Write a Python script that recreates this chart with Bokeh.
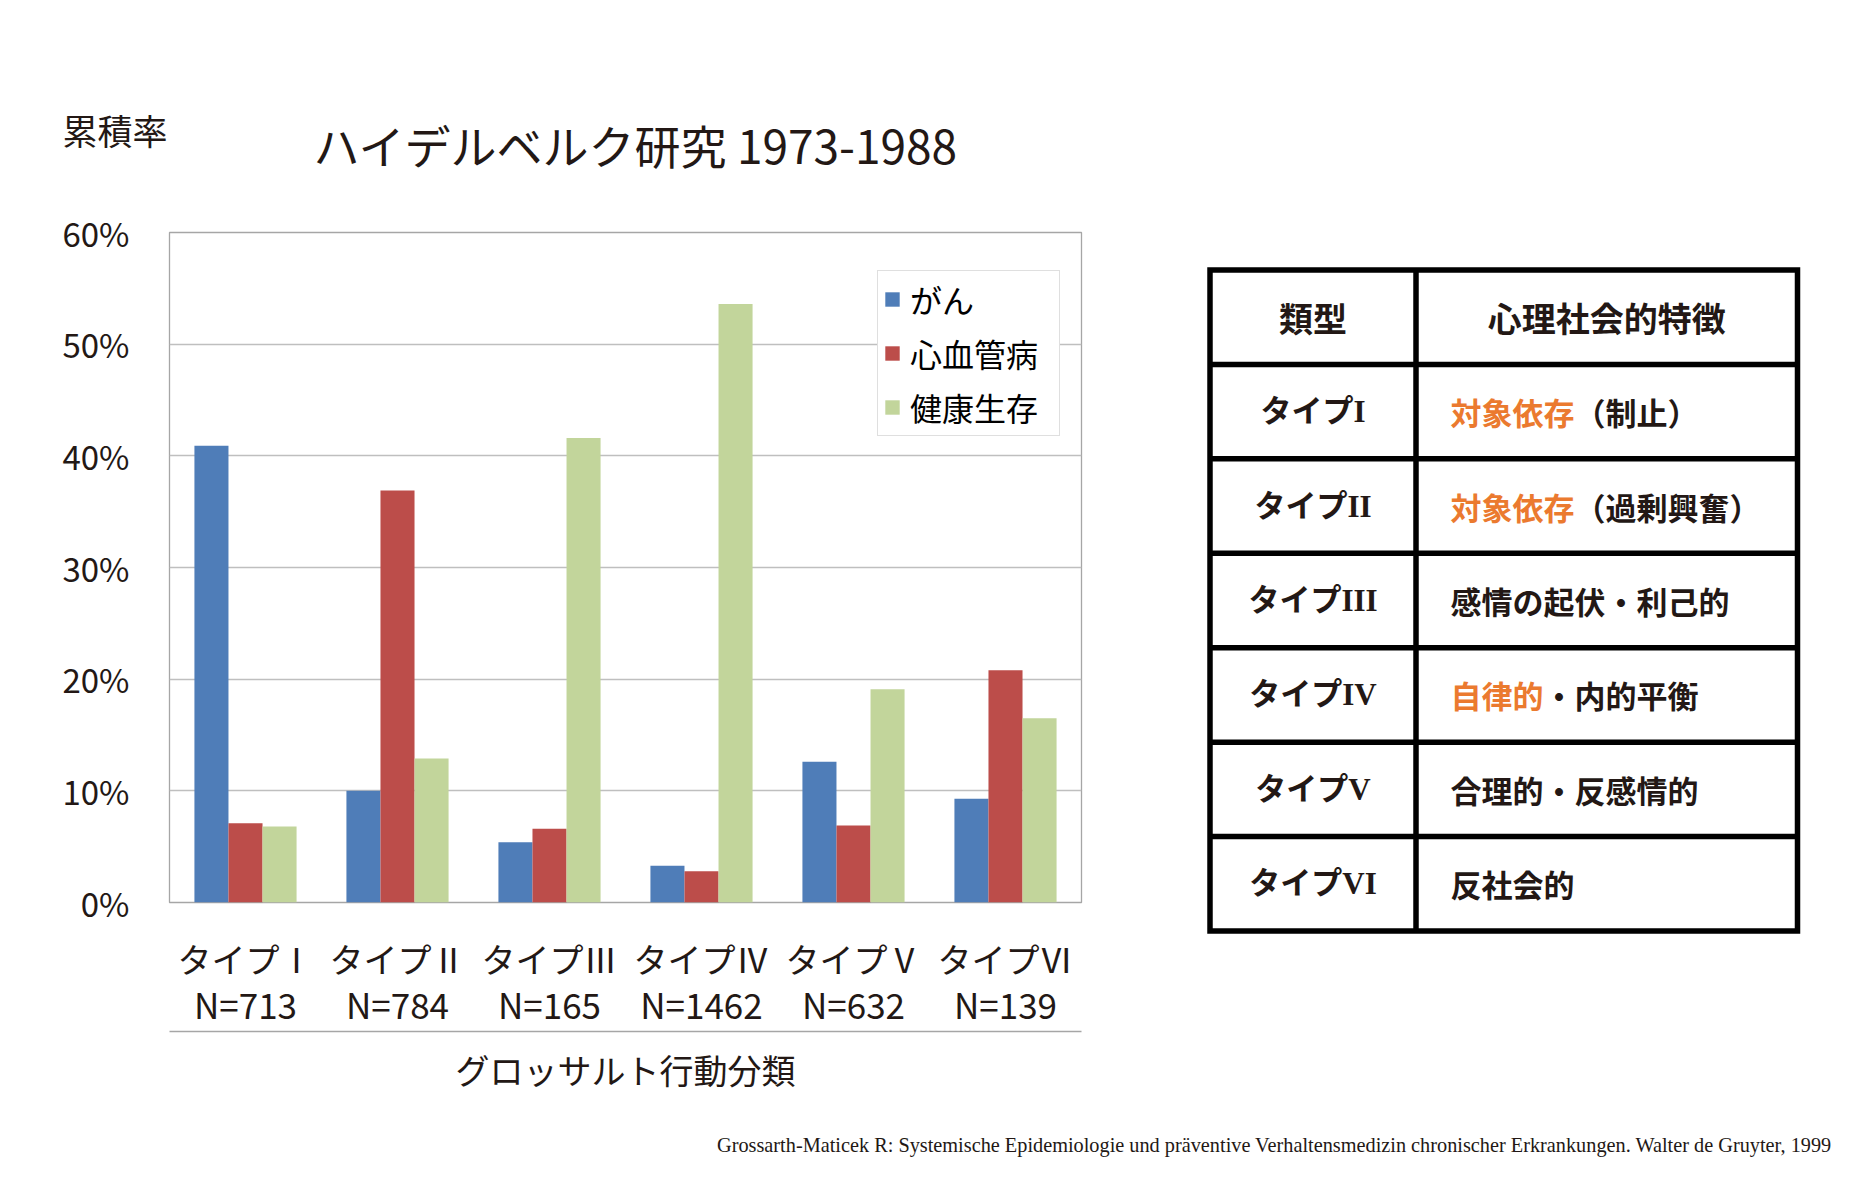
from bokeh.plotting import figure
from bokeh.models import (ColumnDataSource, FactorRange, Range1d, FixedTicker, CategoricalAxis,
                          PrintfTickFormatter, Legend, LegendItem)
from bokeh.transform import dodge
from bokeh.layouts import column, row
from bokeh.embed import file_html
from bokeh.resources import INLINE
from bokeh.core.properties import value

# ---------------- data ----------------
types = ["タイプⅠ", "タイプⅡ", "タイプⅢ", "タイプⅣ", "タイプⅤ", "タイプⅥ"]
n_values = [713, 784, 165, 1462, 632, 139]
cancer = [40.9, 10.0, 5.4, 3.3, 12.6, 9.3]
cardio = [7.1, 36.9, 6.6, 2.8, 6.9, 20.8]
healthy = [6.8, 12.9, 41.6, 53.6, 19.1, 16.5]
series_names = ["がん", "心血管病", "健康生存"]
y_ticks = [0, 10, 20, 30, 40, 50, 60]

title_text = "ハイデルベルク研究 1973-1988"
y_title = "累積率"
x_title = "グロッサルト行動分類"

table_header = ["類型", "心理社会的特徴"]
table_types = ["タイプI", "タイプII", "タイプIII", "タイプIV", "タイプV", "タイプVI"]
table_highlight = ["対象依存", "対象依存", "", "自律的", "", ""]
table_rest = ["（制止）", "（過剰興奮）", "感情の起伏・利己的", "・内的平衡", "合理的・反感情的", "反社会的"]

citation = ("Grossarth-Maticek R: Systemische Epidemiologie und präventive "
            "Verhaltensmedizin chronischer Erkrankungen. Walter de Gruyter, 1999")

# ---------------- style ----------------
JP = "Noto Sans CJK JP"
INK = "#231815"
colors = ["#4F7DB8", "#BC4D4A", "#C2D59B"]
ORANGE = "#EB7A2F"


def blank_fig(w, h):
    f = figure(width=w, height=h, x_range=Range1d(0, w), y_range=Range1d(h, 0),
               x_axis_location=None, y_axis_location=None, min_border=0,
               output_backend="svg", toolbar_location=None)
    f.grid.visible = False
    f.outline_line_color = None
    return f


LEFT_W = 1190
HEAD_H = 188
PAGE_W = 1872

# ---------------- header (title + y caption) ----------------
hd = blank_fig(PAGE_W, HEAD_H)
hd.text(x=[313], y=[143], text=[title_text], text_font=value(JP), text_font_size="46px",
        text_align="left", text_baseline="middle", text_color=INK)
hd.text(x=[62], y=[129], text=[y_title], text_font=value(JP), text_font_size="35px",
        text_align="left", text_baseline="middle", text_color=INK)

# ---------------- chart ----------------
src = ColumnDataSource(dict(types=types, cancer=cancer, cardio=cardio, healthy=healthy))
n_labels = [f"N={n}" for n in n_values]

p = figure(x_range=FactorRange(*types), y_range=Range1d(0, 60),
           frame_width=912, frame_height=670,
           min_border_left=169, min_border_right=109, min_border_top=44, min_border_bottom=218,
           output_backend="svg", toolbar_location=None)
p.background_fill_color = "white"
p.outline_line_color = "#A6A6A6"
p.outline_line_width = 1.3

bw = 0.224
renderers = []
for i, (col, c) in enumerate(zip(["cancer", "cardio", "healthy"], colors)):
    r = p.vbar(x=dodge("types", (i - 1) * bw, range=p.x_range), top=col, bottom=0,
               width=bw, source=src, fill_color=c, line_color=None)
    renderers.append(r)

# y axis
p.yaxis.ticker = FixedTicker(ticks=y_ticks)
p.yaxis.formatter = PrintfTickFormatter(format="%d%%")
p.yaxis.axis_line_color = None
p.yaxis.major_tick_line_color = None
p.yaxis.minor_tick_line_color = None
p.yaxis.major_label_standoff = 34
p.yaxis.major_label_text_font = JP
p.yaxis.major_label_text_font_size = "33px"
p.yaxis.major_label_text_color = INK

p.xgrid.visible = False
p.ygrid.ticker = FixedTicker(ticks=y_ticks)
p.ygrid.grid_line_color = "#BFBFBF"
p.ygrid.grid_line_width = 1.3

# x axis: first line of category labels
p.xaxis.axis_line_color = None
p.xaxis.major_tick_line_color = None
p.xaxis.minor_tick_line_color = None
p.xaxis.major_label_standoff = 25
p.xaxis.major_label_text_font = JP
p.xaxis.major_label_text_font_size = "34px"
p.xaxis.major_label_text_color = INK

# second line of category labels: N=...
p.extra_x_ranges = {"n": FactorRange(*n_labels)}
ax_n = CategoricalAxis(x_range_name="n",
                       axis_line_color=None, major_tick_line_color=None, minor_tick_line_color=None,
                       major_label_standoff=-14, major_label_text_font=JP,
                       major_label_text_font_size="35px", major_label_text_color=INK)
p.add_layout(ax_n, "below")

# third bottom axis: separator line + axis title
ax3 = CategoricalAxis(ticker=FixedTicker(ticks=[]),
                      axis_label=x_title, axis_line_color="#A6A6A6", axis_line_width=1.3,
                      major_tick_line_color=None, minor_tick_line_color=None,
                      major_label_standoff=0, axis_label_standoff=13,
                      axis_label_text_font=JP, axis_label_text_font_size="34px",
                      axis_label_text_font_style="normal", axis_label_text_color=INK)
p.add_layout(ax3, "below")

legend = Legend(items=[LegendItem(label=n, renderers=[r]) for n, r in zip(series_names, renderers)],
                location=(708, 466), orientation="vertical",
                border_line_color="#BFBFBF", border_line_width=1.3,
                padding=5, spacing=8, margin=0,
                glyph_width=18, glyph_height=18, label_standoff=9, label_height=36,
                label_width=144,
                label_text_font=JP, label_text_font_size="32px", label_text_color="black",
                background_fill_alpha=1.0)
p.add_layout(legend)

# ---------------- table ----------------
TW, TH = PAGE_W - LEFT_W, 44 + 670 + 218
t = blank_fig(TW, TH)

x_left, x_div, x_right = 19.5, 225.5, 607.0
y_top, row_h = 269.5 - HEAD_H, 94.43
n_rows = len(table_types) + 1
y_lines = [y_top + k * row_h for k in range(n_rows + 1)]
lw = 5.5

t.segment(x0=[x_left] * (n_rows - 1), x1=[x_right] * (n_rows - 1),
          y0=y_lines[1:-1], y1=y_lines[1:-1], line_color="black", line_width=lw)
t.segment(x0=[x_div], x1=[x_div], y0=[y_lines[0]], y1=[y_lines[-1]], line_color="black", line_width=lw)
t.quad(left=[x_left], right=[x_right], top=[y_lines[0]], bottom=[y_lines[-1]],
       fill_color=None, line_color="black", line_width=lw, line_join="miter")

col1_c = (x_left + x_div) / 2
col2_c = (x_div + x_right) / 2
centers = [y_top + (k + 0.5) * row_h for k in range(n_rows)]

t.text(x=[col1_c, col2_c], y=[centers[0]] * 2, text=table_header,
       text_font=value(JP), text_font_style="bold", text_font_size="34px",
       text_align="center", text_baseline="middle", text_color=INK)
t.text(x=[col1_c] * len(table_types), y=centers[1:], text=table_types,
       text_font=value("Liberation Serif, Noto Sans CJK JP"), text_font_style="bold",
       text_font_size="31px", text_align="center", text_baseline="middle", text_color=INK)

fs = 31
x_text = 260
t.text(x=[x_text] * len(table_highlight), y=centers[1:], text=table_highlight,
       text_font=value(JP), text_font_style="bold", text_font_size=f"{fs}px",
       text_align="left", text_baseline="middle", text_color=ORANGE)
t.text(x=[x_text + len(h) * fs for h in table_highlight], y=centers[1:], text=table_rest,
       text_font=value(JP), text_font_style="bold", text_font_size=f"{fs}px",
       text_align="left", text_baseline="middle", text_color=INK)

# ---------------- footer ----------------
f = blank_fig(PAGE_W, 60)
f.text(x=[1274], y=[24], text=[citation], text_font=value("Liberation Serif"),
       text_font_size="20.3px", text_align="center", text_baseline="middle", text_color=INK)

layout = column(hd, row(column(p), t), f)
open("out.html", "w").write(file_html(layout, INLINE))
